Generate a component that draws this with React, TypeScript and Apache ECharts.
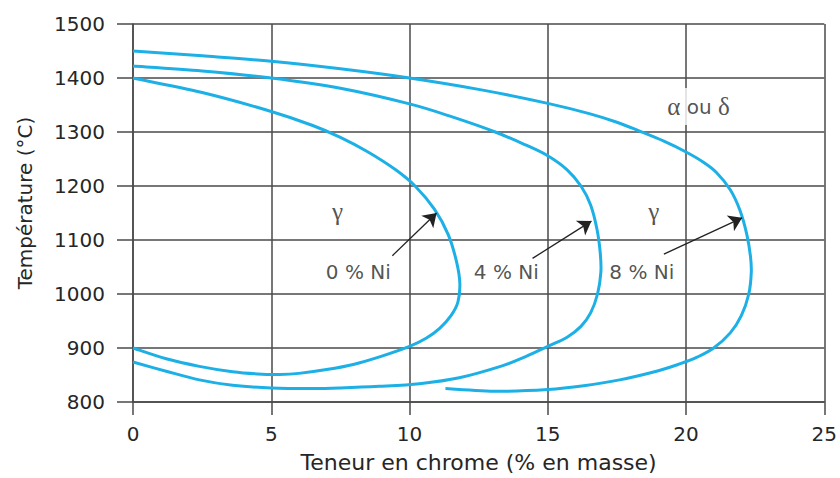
import React, { useEffect, useRef } from "react";
import * as echarts from "echarts";

const xMin = 0;
const xMax = 25;
const xStep = 5;
const yMin = 800;
const yMax = 1500;
const yStep = 100;

const xTitle = "Teneur en chrome (% en masse)";
const yTitle = "Température (°C)";

// C-curves (Cr %, °C), traced top branch -> nose -> bottom branch
const ni0: number[][] = [
  [0, 1400], [2.5, 1373], [5, 1338], [6.5, 1312], [7.5, 1290], [8.5, 1263],
  [9.5, 1230], [10.2, 1200], [10.9, 1157], [11.4, 1110], [11.7, 1060],
  [11.82, 1020], [11.75, 985], [11.5, 960], [11.1, 937], [10.6, 918],
  [10, 903], [9, 885], [8, 870], [7, 860], [6, 853], [5.3, 851], [4.5, 852],
  [3.6, 856], [2.4, 866], [1.2, 880], [0, 900],
];
const ni4: number[][] = [
  [0, 1422], [2.5, 1413], [5, 1400], [7.5, 1381], [10, 1352], [11.6, 1327],
  [13.1, 1300], [14.2, 1276], [15, 1256], [15.7, 1230], [16.2, 1200],
  [16.55, 1165], [16.78, 1120], [16.9, 1075], [16.92, 1040], [16.8, 1000],
  [16.55, 965], [16.2, 940], [15.7, 920], [15, 903], [14.2, 884],
  [13.35, 867], [11.8, 845], [10.36, 834], [8.9, 829], [7.5, 826],
  [6.5, 825], [5, 826], [3.6, 831], [2.4, 841], [1.2, 857], [0, 874],
];
const ni8: number[][] = [
  [0, 1450], [2.5, 1441], [5, 1431], [7.5, 1417], [10, 1400], [12.6, 1378],
  [15, 1353], [16.5, 1334], [17.5, 1318], [18.3, 1302], [19.2, 1283],
  [20, 1263], [20.6, 1245], [21.1, 1225], [21.6, 1193], [21.95, 1155],
  [22.2, 1110], [22.33, 1070], [22.36, 1040], [22.27, 1000], [22.0, 960],
  [21.6, 928], [21.0, 900], [20.4, 883], [19.8, 871], [19, 858],
  [17.6, 841], [16.3, 830], [15, 823], [13.2, 820], [11.3, 825],
];
const curveNames = ["0 % Ni", "4 % Ni", "8 % Ni"];

// arrows: [tail, head]
const arrow0: number[][] = [[9.38, 1071], [10.98, 1150]];
const arrow4: number[][] = [[14.45, 1066], [16.58, 1135]];
const arrow8: number[][] = [[19.2, 1074], [22.03, 1141]];

// annotation texts and their data positions
const labelTexts = ["γ", "γ", "α ou δ", "0 % Ni", "4 % Ni", "8 % Ni"];
const labelX = [7.4, 18.83, 20.45, 8.15, 13.5, 18.4];
const labelY = [1152, 1152, 1347, 1041, 1041, 1041];

const curveColor = "#1cb0e6";
const gridColor = "#4a4a4a";
const textColor = "#262626";
const sans = "DejaVu Sans";
const serif = "Liberation Serif";

function labelFormatter(text: string): string {
  if (text === "γ") return "{g|γ}";
  if (text === "α ou δ") return "{g|α}{s| ou }{g|δ}";
  return "{s|" + text + "}";
}

// smooth path through pixel points (Catmull-Rom -> cubic Bezier)
function splinePath(pts: number[][]): string {
  let d = "M" + pts[0][0] + "," + pts[0][1];
  const t = 1 / 6;
  for (let i = 0; i < pts.length - 1; i++) {
    const p0 = pts[i - 1] || pts[i];
    const p1 = pts[i];
    const p2 = pts[i + 1];
    const p3 = pts[i + 2] || p2;
    const c1x = p1[0] + (p2[0] - p0[0]) * t;
    const c1y = p1[1] + (p2[1] - p0[1]) * t;
    const c2x = p2[0] - (p3[0] - p1[0]) * t;
    const c2y = p2[1] - (p3[1] - p1[1]) * t;
    d += " C" + c1x + "," + c1y + " " + c2x + "," + c2y + " " + p2[0] + "," + p2[1];
  }
  return d;
}

export default function App() {
  const ref = useRef<HTMLDivElement>(null);

  useEffect(() => {
    document.body.style.margin = "0";
    if (!ref.current) return;
    const chart = echarts.init(ref.current, undefined, { renderer: "svg" });

    const curveSeries = [ni0, ni4, ni8].map((d, i) => ({
      type: "custom",
      name: curveNames[i],
      data: d,
      encode: { x: 0, y: 1 },
      z: 3,
      renderItem: (params: any, api: any) => {
        if (params.dataIndex !== 0) return { type: "group", children: [] };
        const px = d.map((p) => api.coord(p));
        return {
          type: "path",
          shape: { pathData: splinePath(px) },
          style: { stroke: curveColor, lineWidth: 3, fill: "none" },
        };
      },
    }));

    const annotations = labelTexts.map((t, i) => {
      const isAlpha = t === "α ou δ";
      return {
        value: [labelX[i], labelY[i]],
        label: {
          show: true,
          position: "inside",
          formatter: labelFormatter(t),
          backgroundColor: isAlpha ? "#ffffff" : "transparent",
          padding: isAlpha ? [6, 2, 6, 2] : 0,
          rich: {
            g: { fontFamily: serif, fontSize: 25, color: textColor },
            s: { fontFamily: sans, fontSize: 20, color: textColor },
          },
        },
      };
    });

    chart.setOption({
      animation: false,
      grid: { left: 133, right: 14, top: 24, bottom: 74, containLabel: false },
      xAxis: {
        type: "value",
        min: xMin,
        max: xMax,
        interval: xStep,
        name: xTitle,
        nameLocation: "middle",
        nameGap: 49,
        nameTextStyle: { fontFamily: sans, fontSize: 22, color: textColor },
        axisLine: { show: true, lineStyle: { color: gridColor, width: 1.5 } },
        axisTick: { show: true, length: 13, lineStyle: { color: gridColor, width: 1.5 } },
        axisLabel: { fontFamily: sans, fontSize: 20, color: textColor, margin: 22 },
        splitLine: { show: true, lineStyle: { color: gridColor, width: 1.5 } },
      },
      yAxis: {
        type: "value",
        min: yMin,
        max: yMax,
        interval: yStep,
        name: yTitle,
        nameLocation: "middle",
        nameGap: 98,
        nameTextStyle: { fontFamily: sans, fontSize: 20, color: textColor, padding: [0, 0, 0, 20] },
        axisLine: { show: true, lineStyle: { color: gridColor, width: 1.5 } },
        axisTick: { show: true, length: 16, lineStyle: { color: gridColor, width: 1.5 } },
        axisLabel: {
          fontFamily: sans,
          fontSize: 20,
          color: textColor,
          margin: 28,
          formatter: (v: number) => String(v),
        },
        splitLine: { show: true, lineStyle: { color: gridColor, width: 1.5 } },
      },
      series: [
        ...curveSeries,
        {
          type: "lines",
          coordinateSystem: "cartesian2d",
          data: [arrow0, arrow4, arrow8].map((c) => ({ coords: c })),
          symbol: ["none", "arrow"],
          symbolSize: [0, 13],
          lineStyle: { color: "#222222", width: 1.3, opacity: 1 },
          z: 4,
        },
        {
          type: "scatter",
          data: annotations,
          symbol: "circle",
          symbolSize: 1,
          itemStyle: { color: "rgba(0,0,0,0)" },
          z: 5,
        },
      ],
    });

    return () => chart.dispose();
  }, []);

  return <div ref={ref} style={{ width: 840, height: 478 }} />;
}
